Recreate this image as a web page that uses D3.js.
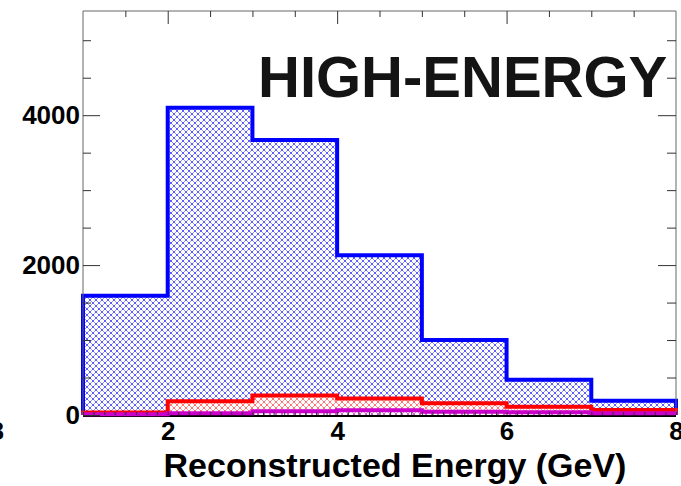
<!DOCTYPE html>
<html>
<head>
<meta charset="utf-8">
<script src="https://cdn.jsdelivr.net/npm/d3@7"></script>
<style>
body { margin: 0; background: #fff; }
</style>
</head>
<body>
<script>
// histogram contents (bins of 1 GeV from 1 to 8)
var binEdges = [1, 2, 3, 4, 5, 6, 7, 8];
var totalCounts = [1590, 4100, 3670, 2130, 1000, 470, 190];
var redCounts = [35, 185, 260, 220, 156, 110, 67];
var magentaCounts = [10, 25, 50, 62, 45, 36, 24];
var xMajorTicks = [2, 4, 6, 8];
var xMinorTicks = [1.5, 2.5, 3, 3.5, 4.5, 5, 5.5, 6.5, 7, 7.5];
var xTinyTicks = d3.range(1, 8.01, 0.125);
var yMajorTicks = [0, 2000, 4000];
var yMinorTicks = [500, 1000, 1500, 2500, 3000, 3500, 4500, 5000];
var title = "Reconstructed Energy (GeV)";
var label = "HIGH-ENERGY";

var width = 681, height = 486;
var padLeft = 83, padRight = 676, padTop = 11, padBottom = 415;

var x = d3.scaleLinear().domain([1, 8]).range([padLeft, padRight]);
var y = d3.scaleLinear().domain([0, 5390]).range([padBottom, padTop]);

var svg = d3.select("body")
    .append("svg")
    .attr("width", width)
    .attr("height", height)
    .style("font-family", "Liberation Sans, Arial, sans-serif");

svg.append("rect")
    .attr("width", width)
    .attr("height", height)
    .attr("fill", "#fff");

// hatch patterns
var defs = svg.append("defs");
function hatch(id, light, dark) {
    var p = defs.append("pattern")
        .attr("id", id)
        .attr("patternUnits", "userSpaceOnUse")
        .attr("width", 6)
        .attr("height", 6);
    p.append("rect").attr("width", 6).attr("height", 6).attr("fill", "#fff");
    p.append("path")
        .attr("d", "M0,0L6,6M6,0L0,6")
        .attr("stroke", light)
        .attr("stroke-width", 1);
    [[2.4, 2.4], [-0.6, -0.6], [5.4, 5.4], [5.4, -0.6], [-0.6, 5.4]].forEach(function(c) {
        p.append("rect").attr("x", c[0]).attr("y", c[1]).attr("width", 1.2).attr("height", 1.2).attr("fill", dark);
    });
}
hatch("hatchBlue", "#9494ff", "#0000ee");
hatch("hatchRed", "#ff9a9a", "#ff3030");
hatch("hatchMagenta", "#e39ae3", "#c000c0");

// bottom axis line (under the histograms)
svg.append("line")
    .attr("x1", padLeft).attr("y1", padBottom + 1)
    .attr("x2", padRight).attr("y2", padBottom + 1)
    .attr("stroke", "#000")
    .attr("stroke-width", 2);

// step helpers
function steps(vals) {
    var pts = [[binEdges[0], 0]];
    binEdges.forEach(function(e, i) {
        pts.push([e, vals[Math.min(i, vals.length - 1)]]);
    });
    pts.push([binEdges[binEdges.length - 1], 0]);
    return pts;
}
var area = d3.area()
    .curve(d3.curveStepAfter)
    .x(function(d) { return x(d[0]); })
    .y0(y(0))
    .y1(function(d) { return y(d[1]); });
var line = d3.line()
    .curve(d3.curveStepAfter)
    .x(function(d) { return x(d[0]); })
    .y(function(d) { return y(d[1]); });

var hists = [
    {vals: totalCounts, fill: "url(#hatchBlue)", stroke: "#0000ff"},
    {vals: redCounts, fill: "url(#hatchRed)", stroke: "#ff0000"},
    {vals: magentaCounts, fill: "url(#hatchMagenta)", stroke: "#cc00cc"}
];
hists.forEach(function(h) {
    svg.append("path")
        .attr("d", area(steps(h.vals)))
        .attr("fill", h.fill);
    svg.append("path")
        .attr("d", line(steps(h.vals)))
        .attr("fill", "none")
        .attr("stroke", h.stroke)
        .attr("stroke-width", 4)
        .attr("stroke-linejoin", "miter");
});

// frame
svg.append("path")
    .attr("d", "M" + padLeft + "," + padBottom + "V" + padTop + "H" + padRight + "V" + padBottom)
    .attr("fill", "none")
    .attr("stroke", "#666")
    .attr("stroke-width", 1);

function styleAxis(g) {
    g.select(".domain").remove();
    g.selectAll("line").attr("stroke", "#333");
    g.selectAll("text")
        .attr("font-family", "Liberation Sans, Arial, sans-serif")
        .attr("font-size", 26)
        .attr("font-weight", "bold")
        .attr("fill", "#000");
}

// left axis
svg.append("g")
    .attr("transform", "translate(" + padLeft + ",0)")
    .call(d3.axisLeft(y).tickValues(yMinorTicks).tickSize(-8).tickFormat(""))
    .call(styleAxis);
svg.append("g")
    .attr("transform", "translate(" + padLeft + ",0)")
    .call(d3.axisLeft(y).tickValues(yMajorTicks).tickSize(-17).tickPadding(3).tickFormat(d3.format("d")))
    .call(styleAxis);

// right axis (mirror ticks)
svg.append("g")
    .attr("transform", "translate(" + padRight + ",0)")
    .call(d3.axisRight(y).tickValues(yMinorTicks).tickSize(-9).tickFormat(""))
    .call(styleAxis);
svg.append("g")
    .attr("transform", "translate(" + padRight + ",0)")
    .call(d3.axisRight(y).tickValues(yMajorTicks.slice(1)).tickSize(-18).tickFormat(""))
    .call(styleAxis);

// top axis (mirror ticks)
svg.append("g")
    .attr("transform", "translate(0," + padTop + ")")
    .call(d3.axisTop(x).tickValues(xMinorTicks).tickSize(-6).tickFormat(""))
    .call(styleAxis);
svg.append("g")
    .attr("transform", "translate(0," + padTop + ")")
    .call(d3.axisTop(x).tickValues(xMajorTicks.slice(0, 3)).tickSize(-13).tickFormat(""))
    .call(styleAxis);

// bottom axis
svg.append("g")
    .attr("transform", "translate(0," + padBottom + ")")
    .call(d3.axisBottom(x).tickValues(xTinyTicks).tickSize(-3).tickFormat(""))
    .call(styleAxis);
svg.append("g")
    .attr("transform", "translate(0," + padBottom + ")")
    .call(d3.axisBottom(x).tickValues(xMajorTicks).tickSize(0).tickPadding(7).tickFormat(d3.format("d")))
    .call(styleAxis);

// cut-off label from the neighbouring panel
svg.append("text")
    .attr("x", 4)
    .attr("y", 440)
    .attr("text-anchor", "end")
    .attr("font-size", 26)
    .attr("font-weight", "bold")
    .text("8");

// axis title
svg.append("text")
    .attr("x", 395)
    .attr("y", 477)
    .attr("text-anchor", "middle")
    .attr("font-size", 34)
    .attr("font-weight", "bold")
    .attr("fill", "#000")
    .text(title);

// big label
svg.append("text")
    .attr("x", 258)
    .attr("y", 97)
    .attr("font-size", 58)
    .attr("font-weight", "bold")
    .attr("fill", "#141414")
    .text(label);
</script>
</body>
</html>
